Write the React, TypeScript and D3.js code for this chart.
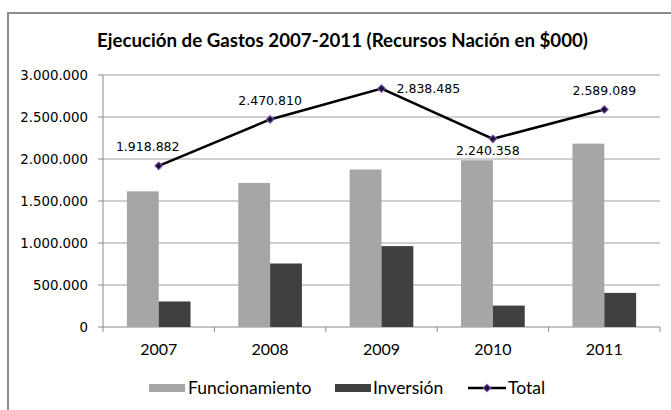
import * as d3 from 'd3'

const YEARS = ['2007', '2008', '2009', '2010', '2011']
const FUNCIONAMIENTO = [1615000, 1715000, 1875000, 1985000, 2183000]
const INVERSION = [304000, 756000, 963000, 255000, 406000]
const TOTAL = [1918882, 2470810, 2838485, 2240358, 2589089]
const Y_TICKS = [0, 500000, 1000000, 1500000, 2000000, 2500000, 3000000]
// where each total label sits relative to its marker
const LABEL_POS = ['above-left', 'above', 'right', 'below', 'above']

const W = 671
const H = 410
const LEFT = 103
const RIGHT = 660
const TOP = 75
const BOTTOM = 327

const GRAY = '#a6a6a6'
const DARK = '#404040'
const GRID = '#a0a0a0'
const AXIS = '#8a8a8a'

const locale = d3.formatLocale({ decimal: ',', thousands: '.', grouping: [3], currency: ['$', ''] })
const fmt = locale.format(',d')

export default function App() {
  const x = d3.scaleBand<string>().domain(YEARS).range([LEFT, RIGHT])
  const sub = d3.scaleBand<string>().domain(['f', 'i']).range([0, x.bandwidth()]).paddingOuter(0.75)
  const y = d3.scaleLinear().domain([0, 3000000]).range([BOTTOM, TOP])
  const cx = (yr: string) => (x(yr) ?? 0) + x.bandwidth() / 2

  const line = d3
    .line<number>()
    .x((_, i) => cx(YEARS[i]))
    .y((d) => y(d))

  // square turned 45deg, like the office marker
  const marker = d3.symbol(d3.symbolSquare, 30)() ?? ''

  return (
    <svg width={W} height={H} style={{ position: 'absolute', left: 0, top: 0, background: '#fff' }}>
      {/* outer frame, cut off at the right and bottom */}
      <path d={`M8,${H + 2} V13 H${W + 2}`} fill="none" stroke="#8c8c8c" strokeWidth={2} />

      <text
        x={342.5}
        y={47}
        textAnchor="middle"
        fontFamily="Lato"
        fontWeight="bold"
        fontSize={19}
        textLength={491}
        lengthAdjust="spacingAndGlyphs"
        fill="#000"
      >
        Ejecución de Gastos 2007-2011 (Recursos Nación en $000)
      </text>

      {/* gridlines + y labels */}
      {Y_TICKS.map((t) => (
        <g key={t}>
          {t > 0 && <line x1={LEFT} x2={RIGHT} y1={y(t)} y2={y(t)} stroke={GRID} strokeWidth={1} />}
          <line x1={LEFT - 5} x2={LEFT} y1={y(t)} y2={y(t)} stroke={AXIS} />
          <text x={88} y={y(t)} dy="0.35em" textAnchor="end" fontFamily="DejaVu Sans" fontSize={13.3} fill="#000">
            {fmt(t)}
          </text>
        </g>
      ))}

      {/* axes */}
      <line x1={LEFT} x2={LEFT} y1={TOP} y2={BOTTOM} stroke={AXIS} />
      <line x1={LEFT} x2={RIGHT} y1={BOTTOM} y2={BOTTOM} stroke={AXIS} />
      {YEARS.map((yr) => (
        <line key={yr} x1={(x(yr) ?? 0) + x.bandwidth()} x2={(x(yr) ?? 0) + x.bandwidth()} y1={BOTTOM} y2={BOTTOM + 5} stroke={AXIS} />
      ))}
      <line x1={LEFT} x2={LEFT} y1={BOTTOM} y2={BOTTOM + 5} stroke={AXIS} />

      {/* bars */}
      {YEARS.map((yr, i) => (
        <g key={yr} transform={`translate(${x(yr)},0)`}>
          <rect x={sub('f')} y={y(FUNCIONAMIENTO[i])} width={sub.bandwidth()} height={BOTTOM - y(FUNCIONAMIENTO[i])} fill={GRAY} />
          <rect x={sub('i')} y={y(INVERSION[i])} width={sub.bandwidth()} height={BOTTOM - y(INVERSION[i])} fill={DARK} />
        </g>
      ))}

      {/* category labels */}
      {YEARS.map((yr) => (
        <text key={yr} x={cx(yr)} y={355} textAnchor="middle" fontFamily="Lato" fontSize={16} fill="#000">
          {yr}
        </text>
      ))}

      {/* total line */}
      <path d={line(TOTAL) ?? ''} fill="none" stroke="#000" strokeWidth={2.5} />
      {TOTAL.map((v, i) => (
        <path
          key={i}
          d={marker}
          transform={`translate(${cx(YEARS[i])},${y(v)}) rotate(45)`}
          fill="#1a1030"
          stroke="#8a5cc8"
          strokeWidth={1}
        />
      ))}
      {TOTAL.map((v, i) => {
        const px = cx(YEARS[i])
        const py = y(v)
        const pos = LABEL_POS[i]
        let lx = px
        let ly = py - 19
        let anchor: 'middle' | 'start' = 'middle'
        if (pos === 'above-left') lx = px - 11
        if (pos === 'right') {
          lx = px + 15
          ly = py
          anchor = 'start'
        }
        if (pos === 'below') {
          lx = px - 5
          ly = py + 12
        }
        return (
          <text key={i} x={lx} y={ly} dy="0.35em" textAnchor={anchor} fontFamily="DejaVu Sans" fontSize={12.5} fill="#000">
            {fmt(v)}
          </text>
        )
      })}

      {/* legend */}
      <g fontFamily="Lato" fontSize={17.5} fill="#000">
        <rect x={149} y={384} width={36} height={8} fill={GRAY} />
        <text x={188} y={388} dy="0.35em">Funcionamiento</text>
        <rect x={335} y={384} width={36} height={8} fill={DARK} />
        <text x={373} y={388} dy="0.35em">Inversión</text>
        <line x1={468} x2={506} y1={388} y2={388} stroke="#000" strokeWidth={2.5} />
        <path d={marker} transform="translate(487,388) rotate(45)" fill="#1a1030" stroke="#8a5cc8" strokeWidth={1} />
        <text x={508} y={388} dy="0.35em">Total</text>
      </g>
    </svg>
  )
}
